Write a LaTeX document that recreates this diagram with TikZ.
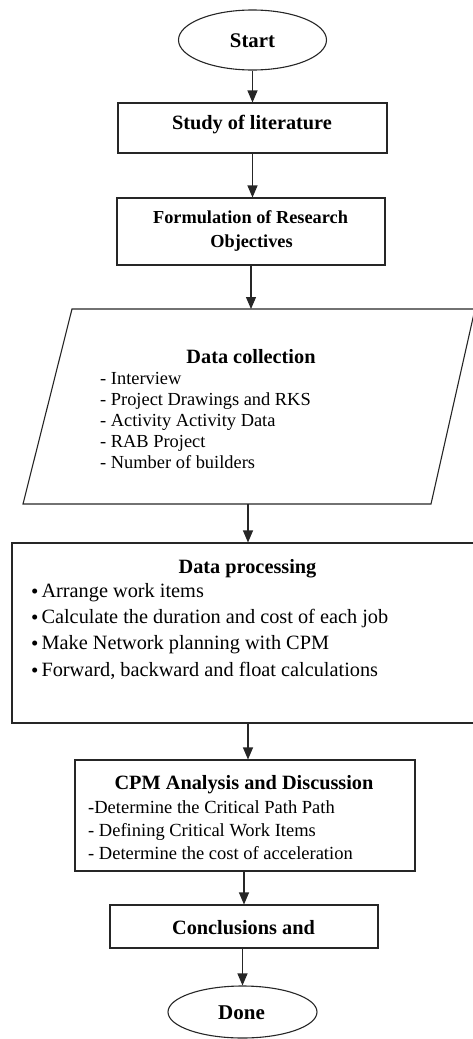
\documentclass[tikz,border=0pt]{standalone}
\usepackage{fontspec}
\setmainfont{Liberation Serif}
\usetikzlibrary{shapes.geometric,arrows.meta}
\newcommand\fsz[1]{\fontsize{#1}{#1}\selectfont}
\newcommand\bul{\raisebox{-1.5pt}{\fsz{21}•}\hspace{3pt}}
\begin{document}
\begin{tikzpicture}[x=1pt,y=-1pt,
  shp/.style={draw=black!85,line width=1.1pt,inner sep=0pt},
  boxn/.style={shp,rectangle},
  term/.style={shp,ellipse},
  arr/.style={draw=black!85,line width=1.1pt,-{Triangle[length=12pt,width=10pt]}},
  ttl/.style={anchor=base,inner sep=0pt,font=\bfseries\fsz{20.3}},
  itm/.style={anchor=base west,inner sep=0pt,font=\fsz{18.4}},
  itmb/.style={anchor=base west,inner sep=0pt,font=\fsz{20.3}}]
\useasboundingbox (0,0) rectangle (473,1039);
% shapes
\node[term,minimum width=148pt,minimum height=60pt] (start) at (252.5,40) {};
\node[boxn,minimum width=269pt,minimum height=50pt] (study) at (252.5,128) {};
\node[boxn,minimum width=268pt,minimum height=67pt] (form) at (251,231.5) {};
\draw[shp] (72,309) -- (475,309) -- (431,504) -- (23,504) -- cycle;
\coordinate (dctop) at (251,309);
\coordinate (dcbot) at (248,504);
\node[boxn,minimum width=464pt,minimum height=180pt] (dp) at (244,633) {};
\node[boxn,minimum width=340pt,minimum height=111pt] (cpm) at (245,815.5) {};
\node[boxn,minimum width=268pt,minimum height=43pt] (concl) at (244,926.5) {};
\node[term,minimum width=149pt,minimum height=52pt] (done) at (242.5,1012) {};
% texts
\node[ttl,font=\bfseries\fsz{20.8}] (startt) at (252.5,47) {Start};
\node[ttl] (studyt) at (252,129) {Study of literature};
\node[ttl,font=\bfseries\fsz{18.3}] (formt1) at (250.5,223) {Formulation of Research};
\node[ttl,font=\bfseries\fsz{18.3}] (formt2) at (251.5,247) {Objectives};
\node[ttl] (dct) at (251,363) {Data collection};
\node[itm] (dc1) at (100,384) {- Interview};
\node[itm] (dc2) at (100,405) {- Project Drawings and RKS};
\node[itm] (dc3) at (100,426) {- Activity Activity Data};
\node[itm] (dc4) at (100,447) {- RAB Project};
\node[itm] (dc5) at (100,468) {- Number of builders};
\node[ttl] (dpt) at (247.5,573) {Data processing};
\node[itmb] (dp1) at (31,597) {\bul Arrange work items};
\node[itmb] (dp2) at (31,623) {\bul Calculate the duration and cost of each job};
\node[itmb] (dp3) at (31,649) {\bul Make Network planning with CPM};
\node[itmb] (dp4) at (31,676) {\bul Forward, backward and float calculations};
\node[ttl] (cpmt) at (244,789) {CPM Analysis and Discussion};
\node[itm,font=\fsz{18.5}] (cpm1) at (88,813) {-Determine the Critical Path Path};
\node[itm,font=\fsz{18.5}] (cpm2) at (88,836) {- Defining Critical Work Items};
\node[itm,font=\fsz{18.5}] (cpm3) at (88,859) {- Determine the cost of acceleration};
\node[ttl] (conclt) at (243.5,934) {Conclusions and};
\node[ttl,font=\bfseries\fsz{21}] (donet) at (241.5,1019) {Done};
% connectors
\draw[arr] (start.south) -- (start.south |- study.north);
\draw[arr] (study.south) -- (study.south |- form.north);
\draw[arr] (form.south -| dctop) -- (dctop);
\draw[arr] (dcbot) -- (dcbot |- dp.north);
\draw[arr] (dcbot |- dp.south) -- (dcbot |- cpm.north);
\draw[arr] (concl.north |- cpm.south) -- (concl.north);
\draw[arr] (concl.south -| done.north) -- (done.north);
\end{tikzpicture}
\end{document}
